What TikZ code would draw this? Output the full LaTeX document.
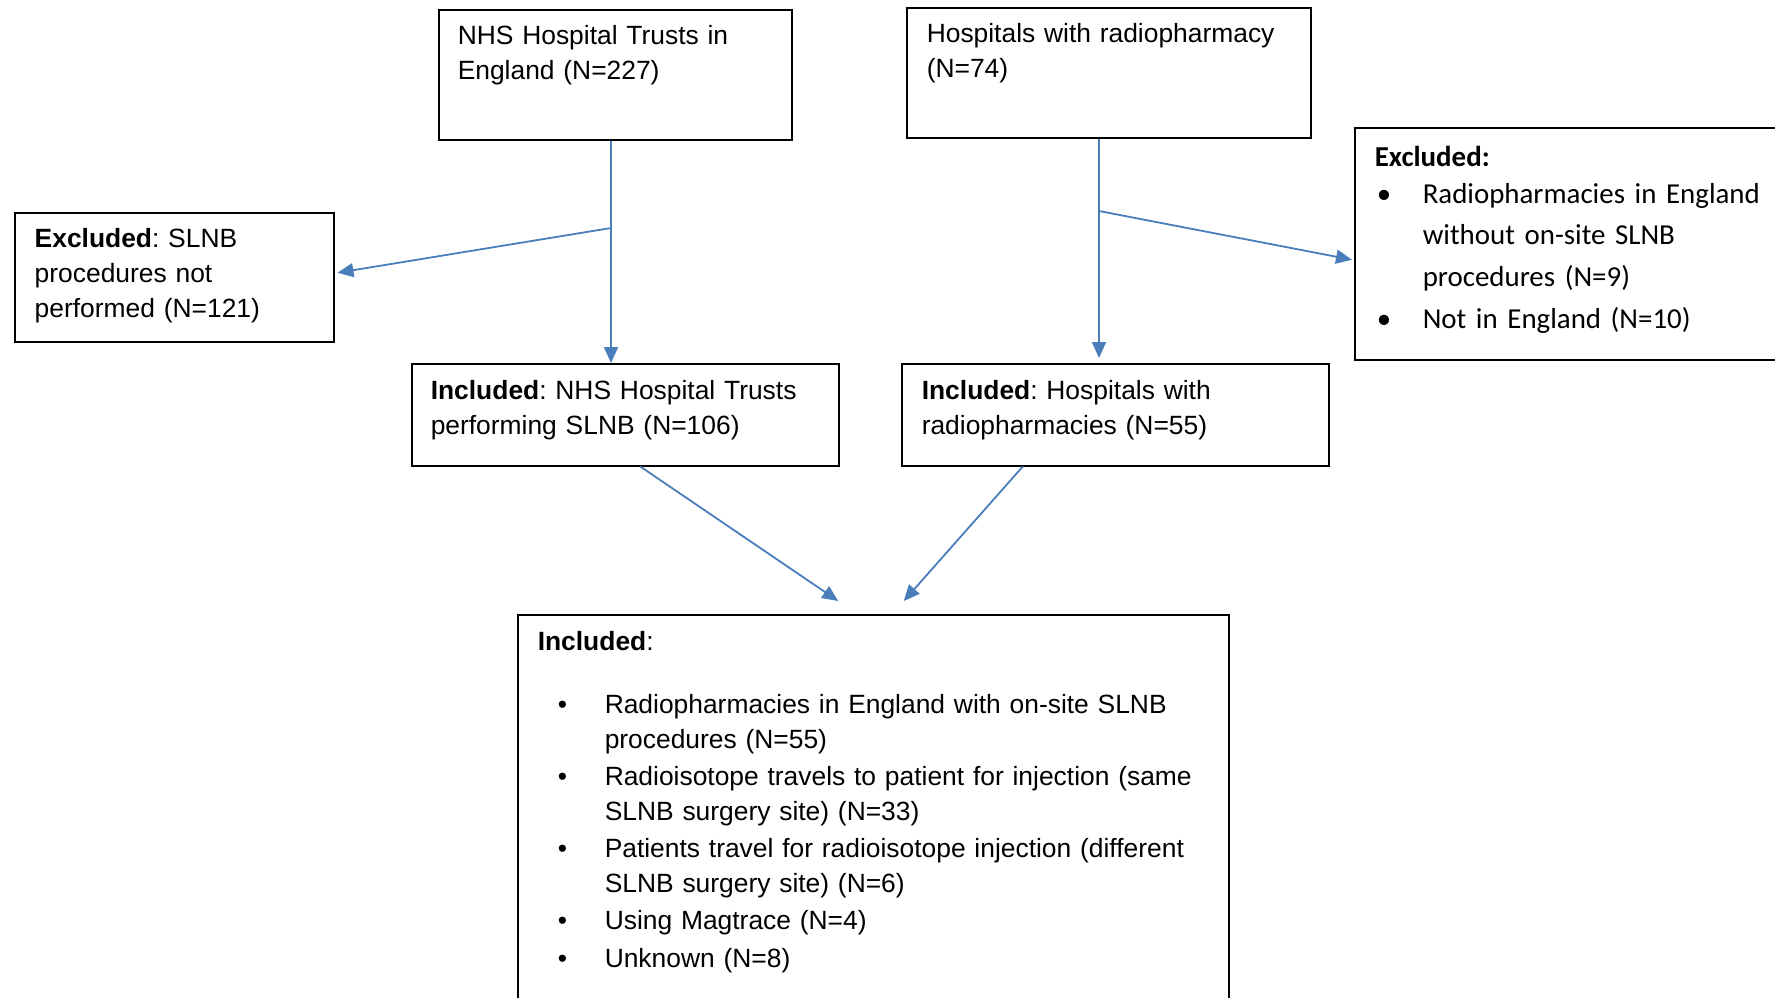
\documentclass[tikz,border=0pt]{standalone}
\usepackage{fontspec}
\setmainfont{Liberation Sans}
\newfontfamily\calibrifont{Carlito}
\usetikzlibrary{arrows.meta,calc}

\definecolor{flowblue}{HTML}{4A7EBB}

\newcommand{\incitem}{\makebox[33.5pt][l]{\hspace*{10pt}\textbullet}}
\newcommand{\inccont}{\hspace*{33.5pt}}
\newcommand{\excitem}{\makebox[24pt][l]{\hspace*{1pt}\textbullet}}
\newcommand{\exccont}{\hspace*{24pt}}
\frenchspacing

\begin{document}
\begin{tikzpicture}[x=0.5pt, y=-0.5pt,
    box/.style={draw, line width=0.75pt, anchor=north west, align=left, inner ysep=0pt,
        font=\fontsize{13.2}{17.5}\selectfont},
    flow/.style={color=flowblue, line width=0.9pt, -{Triangle[length=8pt,width=7pt]}}]

    \useasboundingbox (0,0) rectangle (1775,997);

    % top row
    \node[box, inner xsep=9.5pt, text width=157.5pt, text height=17.3pt, text depth=47.7pt] (nhs) at (438,9)
        {NHS Hospital Trusts in\\England (N=227)};
    \node[box, inner xsep=10pt, text width=182pt, text height=17.2pt, text depth=47.8pt] (hosp) at (906,7)
        {Hospitals with radiopharmacy\\(N=74)};

    % exclusions
    \node[box, inner xsep=10pt, text width=139.5pt, text height=17.25pt, text depth=47.25pt] (exclA) at (14,212)
        {\textbf{Excluded}: SLNB\\procedures not\\performed (N=121)};
    \node[box, font=\calibrifont\fontsize{14.45}{20.65}\selectfont, inner xsep=10pt, text width=198pt,
          text height=19.2pt, text depth=96.8pt] (exclB) at (1354,127)
        {\textbf{Excluded:}\\[-2pt]
         \excitem Radiopharmacies in England\\
         \exccont without on-site SLNB\\
         \exccont procedures (N=9)\\[0.6pt]
         \excitem Not in England (N=10)};

    % inclusions
    \node[box, inner xsep=9.5pt, text width=194.5pt, text height=17.8pt, text depth=33.2pt] (inclA) at (411,363)
        {\textbf{Included}: NHS Hospital Trusts\\performing SLNB (N=106)};
    \node[box, inner xsep=10pt, text width=193.5pt, text height=17.8pt, text depth=33.2pt] (inclB) at (901,363)
        {\textbf{Included}: Hospitals with\\radiopharmacies (N=55)};

    \node[box, inner xsep=10pt, text width=335.5pt, text height=17.8pt, text depth=182.2pt] (final) at (517,614)
        {\textbf{Included}:\\[14pt]
         \incitem Radiopharmacies in England with on-site SLNB\\
         \inccont procedures (N=55)\\[1.1pt]
         \incitem Radioisotope travels to patient for injection (same\\
         \inccont SLNB surgery site) (N=33)\\[1.1pt]
         \incitem Patients travel for radioisotope injection (different\\
         \inccont SLNB surgery site) (N=6)\\[1.1pt]
         \incitem Using Magtrace (N=4)\\[1.1pt]
         \incitem Unknown (N=8)};

    % arrows
    \coordinate (splitA) at (611,228);
    \coordinate (splitB) at (1099,211);
    \draw[flow] (nhs.south -| splitA) -- (inclA.north -| splitA);
    \draw[flow] (splitA) -- ($(exclA.east)+(3,-4.5)$);
    \draw[flow] (hosp.south -| splitB) -- ($(inclB.north -| splitB)+(0,-5)$);
    \draw[flow] (splitB) -- ($(exclB.west)+(-2,16)$);
    \draw[flow] ($(inclA.south)+(15,0)$) -- ($(final.north)+(-35,-13)$);
    \draw[flow] ($(inclB.south)+(-92.5,0)$) -- ($(final.north)+(30.5,-13)$);
\end{tikzpicture}
\end{document}
